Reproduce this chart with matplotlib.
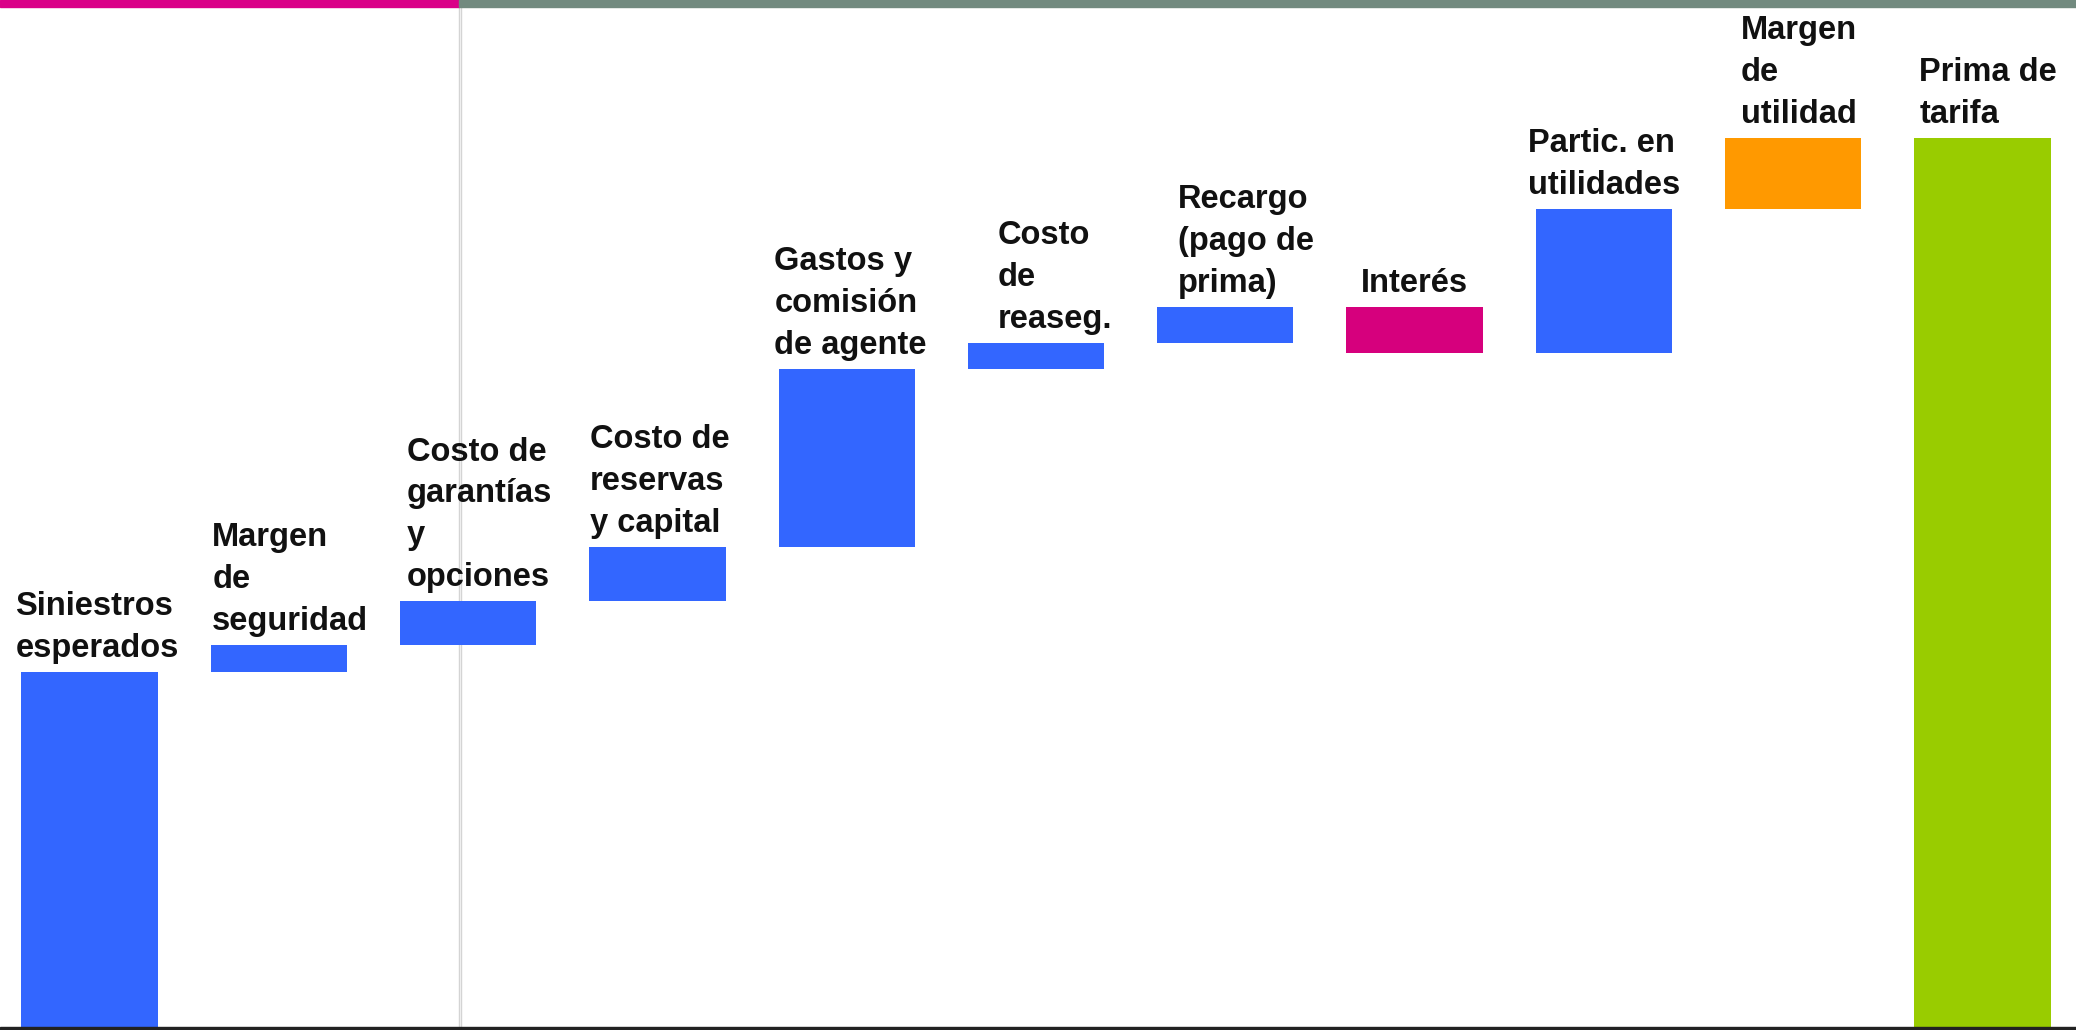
import matplotlib.pyplot as plt
from matplotlib.patches import Rectangle
from matplotlib.lines import Line2D

plt.rcParams['font.family'] = ['Liberation Sans', 'DejaVu Sans']

#%% Data

labels = ['Siniestros\nesperados', 'Margen\nde\nseguridad', 'Costo de\ngarantías\ny\nopciones',
          'Costo de\nreservas\ny capital', 'Gastos y\ncomisión\nde agente', 'Costo\nde\nreaseg.',
          'Recargo\n(pago de\nprima)', 'Interés', 'Partic. en\nutilidades', 'Margen\nde\nutilidad',
          'Prima de\ntarifa']
# step sizes, the last one is the total
steps = [35.5, 2.7, 4.4, 5.4, 17.8, 2.6, 3.6, -4.6, 14.4, 7.1]
colours = ['#3366FF'] * 7 + ['#D6007D', '#3366FF', '#FF9900', '#99CC00']
# small sideways nudges of the labels (bar units)
nudge = [0.04, 0.06, 0.06, 0.01, 0.02, 0.1, 0.11, 0.0, 0.0, 0.03, 0.03]

#%% Plot

fig = plt.figure(figsize=(20.76, 10.30), dpi=100)
ax = fig.add_axes([0, 3 / 1030, 1, 1020 / 1030])
ax.set_xlim(-0.473, 10.494)
ax.set_ylim(0, 102.0)
ax.axis('off')
ax.patch.set_visible(False)

running = 0
for i, lab in enumerate(labels):
    if i < len(steps):
        d = steps[i]
        bottom = running if d > 0 else running + d
        top = running + d if d > 0 else running
        running += d
        ax.bar(i, abs(d), bottom=bottom, width=0.72, color=colours[i])
    else:
        ax.bar(i, running, bottom=0, width=0.72, color=colours[i])
        top = running
    ax.text(i + nudge[i], top + 0.8, lab, ha='center', va='bottom', multialignment='left',
            fontsize=23.5, fontweight='bold', linespacing=1.45, color='#111111')

# decorations round the plot
fig.patches.append(Rectangle((0, 1 - 7 / 1030), 459 / 2076, 7 / 1030, transform=fig.transFigure,
                             color='#DA0088', zorder=5))
fig.patches.append(Rectangle((459 / 2076, 1 - 7 / 1030), 1 - 459 / 2076, 7 / 1030,
                             transform=fig.transFigure, color='#728A7F', zorder=5))
fig.patches.append(Rectangle((0, 0), 1, 3 / 1030, transform=fig.transFigure,
                             color='#222222', zorder=5))
for xv in [458.5 / 2076, 461 / 2076]:
    fig.lines.append(Line2D([xv, xv], [0, 1], transform=fig.transFigure,
                            color='#D4D4D4', lw=1.0, zorder=-1))

plt.savefig('out.png', dpi=100)
